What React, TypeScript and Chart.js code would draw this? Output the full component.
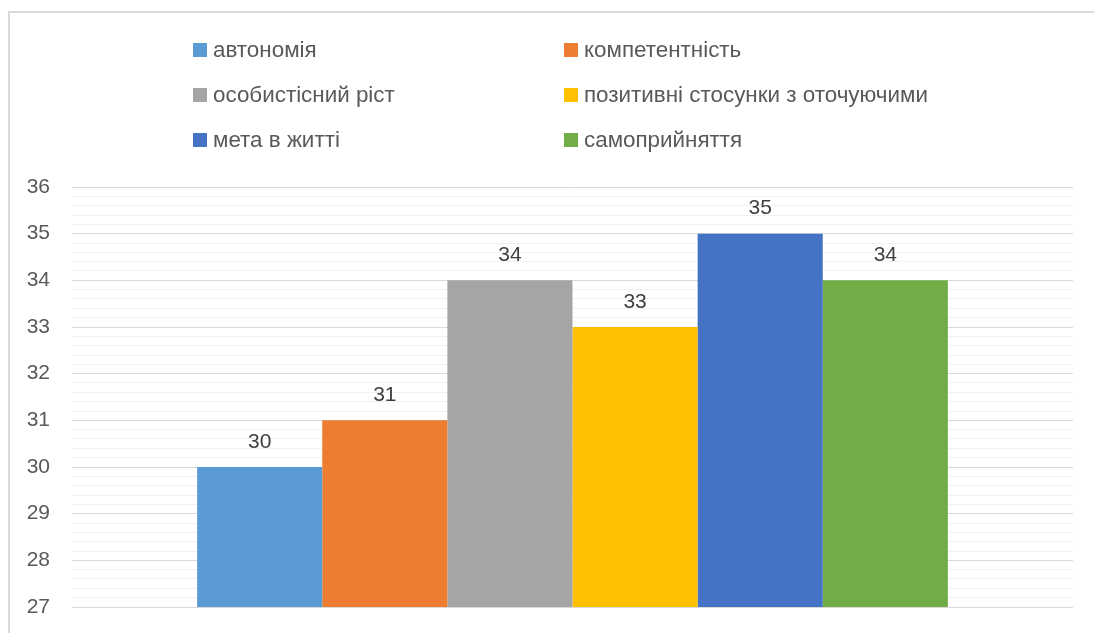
import React, { useEffect, useRef } from "react";
import { Chart, registerables } from "chart.js";
Chart.register(...registerables);

const categories = [""];
const seriesNames = [
  "автономія",
  "компетентність",
  "особистісний ріст",
  "позитивні стосунки з оточуючими",
  "мета в житті",
  "самоприйняття",
];
const seriesValues = [30, 31, 34, 33, 35, 34];
const seriesColors = ["#5B9BD5", "#ED7D31", "#A5A5A5", "#FFC000", "#4472C4", "#70AD47"];
const yMin = 27;
const yMax = 36;

const FONT = "'Liberation Sans', Arial, sans-serif";
const isInt = (v: number) => Math.abs(v - Math.round(v)) < 1e-6;

const legendPlugin = {
  id: "excelLegend",
  afterDraw(chart: any) {
    const ctx = chart.ctx;
    const colX = [193, 564];
    const rowY = [50, 95, 140];
    ctx.save();
    ctx.font = `22.4px ${FONT}`;
    ctx.textBaseline = "middle";
    ctx.textAlign = "left";
    chart.data.datasets.forEach((ds: any, i: number) => {
      const x = colX[i % 2];
      const y = rowY[Math.floor(i / 2)];
      ctx.fillStyle = ds.backgroundColor;
      ctx.fillRect(x, y - 7, 14, 14);
      ctx.fillStyle = "#595959";
      ctx.fillText(ds.label, x + 20, y + 1);
    });
    ctx.restore();
  },
};

const valueLabelPlugin = {
  id: "valueLabels",
  afterDatasetsDraw(chart: any) {
    const ctx = chart.ctx;
    ctx.save();
    ctx.font = `21px ${FONT}`;
    ctx.fillStyle = "#404040";
    ctx.textAlign = "center";
    ctx.textBaseline = "middle";
    chart.data.datasets.forEach((ds: any, i: number) => {
      const meta = chart.getDatasetMeta(i);
      meta.data.forEach((el: any, j: number) => {
        ctx.fillText(String(ds.data[j]), el.x, el.y - 25);
      });
    });
    ctx.restore();
  },
};

export default function App() {
  const ref = useRef<HTMLCanvasElement | null>(null);
  useEffect(() => {
    if (!ref.current) return;
    const chart = new Chart(ref.current, {
      type: "bar",
      data: {
        labels: categories,
        datasets: seriesNames.map((name, i) => ({
          label: name,
          data: [seriesValues[i]],
          backgroundColor: seriesColors[i],
          borderWidth: 0,
          categoryPercentage: 0.75,
          barPercentage: 1,
        })),
      },
      options: {
        animation: false,
        responsive: false,
        maintainAspectRatio: false,
        layout: { padding: { top: 187, bottom: 26, left: 8, right: 21 } },
        plugins: {
          legend: { display: false },
          tooltip: { enabled: false },
        },
        scales: {
          x: { display: false, grid: { display: false } },
          y: {
            min: yMin,
            max: yMax,
            border: { display: false },
            afterFit: (scale: any) => {
              scale.width = 64;
              scale.paddingTop = 0;
              scale.paddingBottom = 0;
            },
            ticks: {
              stepSize: 0.2,
              autoSkip: false,
              padding: 22,
              color: "#595959",
              font: { family: FONT, size: 21 },
              callback: (v: any) => (isInt(Number(v)) ? String(Math.round(Number(v))) : ""),
            },
            grid: {
              drawTicks: false,
              color: (c: any) => (c.tick && isInt(c.tick.value) ? "#d9d9d9" : "#f0f0f0"),
              lineWidth: 1,
            },
          },
        },
      },
      plugins: [legendPlugin, valueLabelPlugin],
    });
    return () => chart.destroy();
  }, []);

  return (
    <div style={{ position: "absolute", left: 0, top: 0, width: 1094, height: 633, overflow: "hidden", background: "#fff" }}>
      <div
        style={{
          position: "absolute",
          left: 8,
          top: 11,
          width: 1200,
          height: 800,
          borderLeft: "2px solid #d9d9d9",
          borderTop: "2px solid #d9d9d9",
        }}
      />
      <canvas ref={ref} width={1094} height={633} style={{ position: "absolute", left: 0, top: 0, width: 1094, height: 633 }} />
    </div>
  );
}
